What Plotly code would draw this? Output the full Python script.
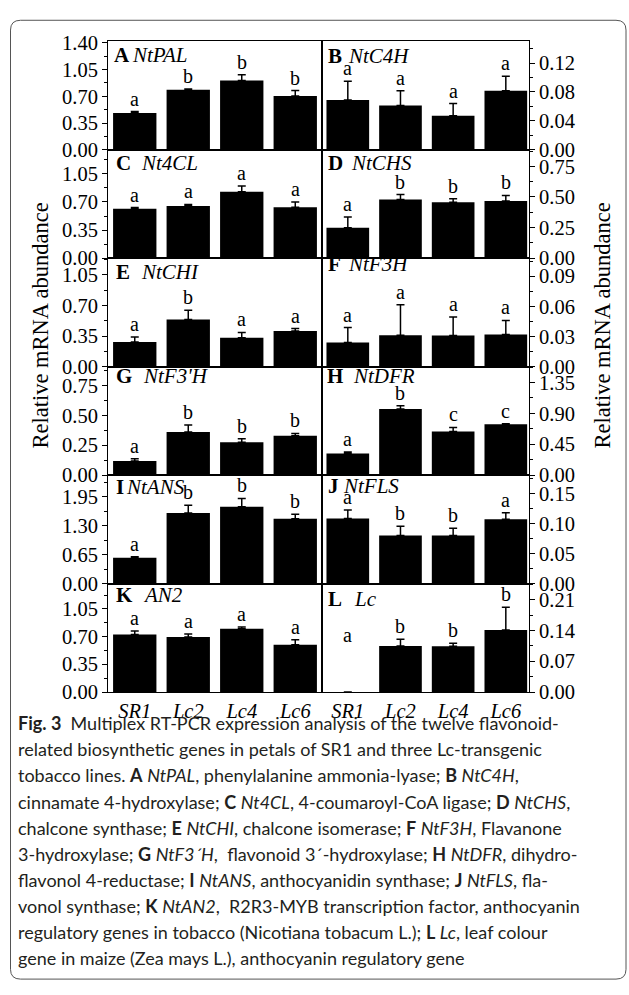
import plotly.graph_objects as go

W, H = 629, 995

# ---------------- data ----------------
lines = ["SR1", "Lc2", "Lc4", "Lc6"]
panel_ids = ["A", "B", "C", "D", "E", "F", "G", "H", "I", "J", "K", "L"]
genes = ["NtPAL", "NtC4H", "Nt4CL", "NtCHS", "NtCHI", "NtF3H",
         "NtF3'H", "NtDFR", "NtANS", "NtFLS", "AN2", "Lc"]

pal_mean = [0.483, 0.785, 0.908, 0.703]
pal_se = [0.017, 0.010, 0.075, 0.073]
c4h_mean = [0.069, 0.0614, 0.047, 0.0817]
c4h_se = [0.0257, 0.0203, 0.017, 0.020]
cl4_mean = [0.615, 0.651, 0.826, 0.634]
cl4_se = [0.015, 0.019, 0.073, 0.066]
chs_mean = [0.248, 0.480, 0.456, 0.467]
chs_se = [0.088, 0.040, 0.030, 0.045]
chi_mean = [0.283, 0.540, 0.331, 0.409]
chi_se = [0.056, 0.104, 0.060, 0.027]
f3h_mean = [0.0242, 0.0313, 0.0310, 0.0320]
f3h_se = [0.0148, 0.0303, 0.0184, 0.0140]
f3ph_mean = [0.118, 0.360, 0.275, 0.330]
f3ph_se = [0.019, 0.060, 0.030, 0.019]
dfr_mean = [0.316, 0.963, 0.637, 0.742]
dfr_se = [0.019, 0.047, 0.057, 0.008]
ans_mean = [0.583, 1.587, 1.730, 1.456]
ans_se = [0.022, 0.175, 0.185, 0.101]
fls_mean = [0.1086, 0.0803, 0.0803, 0.1075]
fls_se = [0.0141, 0.0153, 0.0120, 0.0105]
an2_mean = [0.728, 0.696, 0.800, 0.597]
an2_se = [0.042, 0.037, 0.020, 0.063]
lc_mean = [0.0, 0.105, 0.104, 0.1415]
lc_se = [0.0, 0.015, 0.007, 0.0515]

letters_all = [
    ["a", "b", "b", "b"], ["a", "a", "a", "a"],
    ["a", "a", "a", "a"], ["a", "b", "b", "b"],
    ["a", "b", "a", "a"], ["a", "a", "a", "a"],
    ["a", "b", "b", "b"], ["a", "b", "c", "c"],
    ["a", "b", "b", "b"], ["a", "b", "b", "a"],
    ["a", "a", "a", "a"], ["a", "b", "b", "b"],
]
lc_sr1_letter_level = 0.10  # label height for the empty SR1 bar in panel L

means_all = [pal_mean, c4h_mean, cl4_mean, chs_mean, chi_mean, f3h_mean,
             f3ph_mean, dfr_mean, ans_mean, fls_mean, an2_mean, lc_mean]
se_all = [pal_se, c4h_se, cl4_se, chs_se, chi_se, f3h_se,
          f3ph_se, dfr_se, ans_se, fls_se, an2_se, lc_se]

# axis settings (layout)
y_top = [1.42, 0.15, 1.35, 0.885, 1.24, 0.108, 0.907, 1.58, 2.44, 0.181, 1.37, 0.247]
y_dtick = [0.35, 0.04, 0.35, 0.25, 0.35, 0.03, 0.25, 0.45, 0.65, 0.05, 0.35, 0.07]

caption_lines = [
    "<b>Fig. 3</b>  Multiplex RT-PCR expression analysis of the twelve flavonoid-",
    "related biosynthetic genes in petals of SR1 and three Lc-transgenic",
    "tobacco lines. <b>A</b> <i>NtPAL</i>, phenylalanine ammonia-lyase; <b>B</b> <i>NtC4H</i>,",
    "cinnamate 4-hydroxylase; <b>C</b> <i>Nt4CL</i>, 4-coumaroyl-CoA ligase; <b>D</b> <i>NtCHS</i>,",
    "chalcone synthase; <b>E</b> <i>NtCHI</i>, chalcone isomerase; <b>F</b> <i>NtF3H</i>, Flavanone",
    "3-hydroxylase; <b>G</b> <i>NtF3\u00b4H</i>,  flavonoid 3\u00b4-hydroxylase; <b>H</b> <i>NtDFR</i>, dihydro-",
    "flavonol 4-reductase; <b>I</b> <i>NtANS</i>, anthocyanidin synthase; <b>J</b> <i>NtFLS</i>, fla-",
    "vonol synthase; <b>K</b> <i>NtAN2</i>,  R2R3-MYB transcription factor, anthocyanin",
    "regulatory genes in tobacco (Nicotiana tobacum L.); <b>L</b> <i>Lc</i>, leaf colour",
    "gene in maize (Zea mays L.), anthocyanin regulatory gene",
]

# ---------------- geometry ----------------
def px(x):
    return x / W

def py(y):
    return 1 - y / H

col_x = [(108, 322), (322, 529)]
row_top0 = 33.0
row_h = 110.67
letter_x = [113, 326.7, 115, 326.7, 115, 326.7, 115, 326, 115, 326.7, 115, 326.7]
gene_x = [131, 346.7, 140, 350, 140, 346.7, 141.7, 351.7, 125, 341.7, 141.7, 353.3]
label_y = [46.7, 48.3, 156.7, 156.7, 268.3, 260, 375, 375, 487.3, 486.7, 598.3, 601.7]

SERIF = "Liberation Serif, Times New Roman, serif"
SANS = "Lato, Open Sans, sans-serif"

fig = go.Figure()
layout = dict(
    width=W, height=H, margin=dict(l=0, r=0, t=0, b=0),
    paper_bgcolor="white", plot_bgcolor="white", showlegend=False,
    bargap=0.19,
)
annotations = []

for k in range(12):
    n = k + 1
    row, col = k // 2, k % 2
    x0, x1 = col_x[col]
    t = row_top0 + row * row_h
    b = t + row_h
    xs = "" if n == 1 else str(n)
    err_plus = [s if (s > 0 or m > 0) else None for m, s in zip(means_all[k], se_all[k])]
    fig.add_trace(go.Bar(
        x=lines, y=means_all[k],
        marker=dict(color="black", line=dict(width=0)),
        error_y=dict(type="data", array=err_plus, arrayminus=[0] * 4,
                     symmetric=False, color="black", thickness=1.5, width=4),
        xaxis="x" + xs, yaxis="y" + xs, hoverinfo="skip",
    ))
    xr = [-0.5, 3.5] if col == 0 else [-0.49, 3.44]
    layout["xaxis" + xs] = dict(
        domain=[px(x0), px(x1)], anchor="y" + xs, range=xr,
        showline=True, mirror=True, linecolor="black", linewidth=1,
        ticks="", showgrid=False, zeroline=False,
        tickvals=lines, ticktext=["<i>%s</i>" % s for s in lines],
        showticklabels=(row == 5),
        tickfont=dict(family=SERIF, size=20.5, color="black"),
    )
    layout["yaxis" + xs] = dict(
        domain=[py(b), py(t)], anchor="x" + xs, range=[0, y_top[k]],
        side="left" if col == 0 else "right",
        showline=True, mirror=True, linecolor="black", linewidth=1,
        ticks="outside", ticklen=5, tickwidth=1, tickcolor="black",
        tick0=0, dtick=y_dtick[k], tickformat=".2f",
        minor=dict(ticks="outside", ticklen=3, tickwidth=1, tickcolor="black",
                   dtick=y_dtick[k] / 2, tick0=0, showgrid=False),
        showgrid=False, zeroline=False,
        tickfont=dict(family=SERIF, size=20.5, color="black"),
    )
    # panel labels
    annotations.append(dict(
        xref="paper", yref="paper", x=px(letter_x[k] - 1), y=py(label_y[k]),
        xanchor="left", yanchor="middle", showarrow=False,
        text="<b>%s</b>" % panel_ids[k],
        font=dict(family=SERIF, size=21, color="black"),
    ))
    annotations.append(dict(
        xref="paper", yref="paper", x=px(gene_x[k] - 1), y=py(label_y[k]),
        xanchor="left", yanchor="middle", showarrow=False,
        text="<i>%s</i>" % genes[k],
        font=dict(family=SERIF, size=21, color="black"),
    ))
    # significance letters
    for i, cat in enumerate(lines):
        top = means_all[k][i] + se_all[k][i]
        if means_all[k][i] == 0:
            top = lc_sr1_letter_level
        annotations.append(dict(
            xref="x" + xs, yref="y" + xs, x=cat, y=top,
            xanchor="center", yanchor="bottom", showarrow=False, yshift=0,
            text=letters_all[k][i],
            font=dict(family=SERIF, size=20, color="black"),
        ))

# y axis titles
for xpos in (41, 603):
    annotations.append(dict(
        xref="paper", yref="paper", x=px(xpos), y=py(323),
        xanchor="center", yanchor="middle", showarrow=False, textangle=-90,
        text="Relative mRNA abundance",
        font=dict(family=SERIF, size=22.5, color="black"),
    ))

# caption
for i, txt in enumerate(caption_lines):
    annotations.append(dict(
        xref="paper", yref="paper", x=px(16), y=py(729 + 26.6 * i),
        xanchor="left", yanchor="middle", showarrow=False, align="left",
        text=txt, font=dict(family=SANS, size=18, color="#231f20"),
    ))

layout["annotations"] = annotations

# rounded outer frame
bx0, by0, bx1, by1, r = 10.5, 11.5, 626, 990, 10
path = (
    f"M {px(bx0 + r)} {py(by0)} L {px(bx1 - r)} {py(by0)} "
    f"Q {px(bx1)} {py(by0)} {px(bx1)} {py(by0 + r)} "
    f"L {px(bx1)} {py(by1 - r)} Q {px(bx1)} {py(by1)} {px(bx1 - r)} {py(by1)} "
    f"L {px(bx0 + r)} {py(by1)} Q {px(bx0)} {py(by1)} {px(bx0)} {py(by1 - r)} "
    f"L {px(bx0)} {py(by0 + r)} Q {px(bx0)} {py(by0)} {px(bx0 + r)} {py(by0)} Z"
)
layout["shapes"] = [dict(type="path", xref="paper", yref="paper", path=path,
                         line=dict(color="#555555", width=1))]

fig.update_layout(**layout)
fig.write_html("out.html",
               config={"displayModeBar": False},
               post_script="document.body.style.margin='0';document.body.style.overflow='hidden';")
